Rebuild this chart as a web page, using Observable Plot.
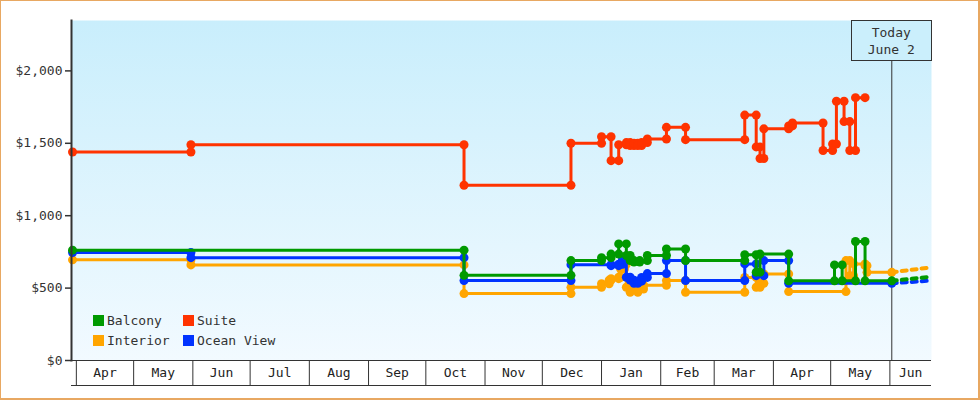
<!DOCTYPE html>
<html><head><meta charset="utf-8">
<script src="https://cdn.jsdelivr.net/npm/d3@7"></script>
<script src="https://cdn.jsdelivr.net/npm/@observablehq/plot@0.6"></script>
<style>
html,body{margin:0;padding:0;background:#fff;}
#wrap{position:relative;width:980px;height:400px;overflow:hidden;font-family:"DejaVu Sans Mono",monospace;}
#wrap svg{position:absolute;left:0;top:0;}
#border{position:absolute;left:0;top:0;width:980px;height:400px;box-sizing:border-box;border-style:solid;border-color:#e8a862;border-width:1px 2px 2px 1px;pointer-events:none;}
.lg{position:absolute;display:flex;align-items:center;height:12px;font-size:13px;color:#333;white-space:nowrap;}
.lg i{display:block;width:11px;height:11px;margin-right:3px;}
#today{position:absolute;box-sizing:border-box;border:1px solid #333;background:#cbeffc;text-align:center;font-size:13px;line-height:17px;padding-top:3px;color:#333;}
</style></head><body><div id="wrap"></div>
<script>
// ---- data ----
const seriesNames  = ["Balcony", "Suite", "Interior", "Ocean View"];
const seriesColors = ["#009a00", "#ff3300", "#ffa500", "#0033ff"];

const balconyDates  = ["2012-03-30","2012-10-21","2012-12-16","2013-01-01","2013-01-06","2013-01-10","2013-01-14","2013-01-16","2013-01-18","2013-01-21","2013-01-25","2013-02-04","2013-02-14","2013-03-17","2013-03-23","2013-03-25","2013-04-09","2013-05-03","2013-05-07","2013-05-14","2013-05-19","2013-06-02"];
const balconyPrices = [762,588,690,710,735,805,725,690,680,690,725,770,690,730,610,735,550,660,550,822,550,550];

const suiteDates  = ["2012-03-30","2012-05-31","2012-10-21","2012-12-16","2013-01-01","2013-01-06","2013-01-10","2013-01-14","2013-01-16","2013-01-18","2013-01-20","2013-01-22","2013-01-25","2013-02-04","2013-02-14","2013-03-17","2013-03-23","2013-03-25","2013-03-27","2013-04-09","2013-04-11","2013-04-27","2013-05-02","2013-05-04","2013-05-08","2013-05-11","2013-05-14","2013-05-19"];
const suitePrices = [1440,1490,1210,1500,1545,1380,1490,1505,1485,1500,1485,1505,1530,1610,1525,1695,1475,1395,1600,1620,1640,1450,1495,1790,1650,1450,1815,1815];

const interiorDates  = ["2012-03-30","2012-05-31","2012-10-21","2012-12-16","2013-01-01","2013-01-05","2013-01-06","2013-01-10","2013-01-11","2013-01-13","2013-01-14","2013-01-16","2013-01-20","2013-01-23","2013-02-04","2013-02-14","2013-03-17","2013-03-23","2013-03-25","2013-03-27","2013-04-09","2013-05-09","2013-05-11","2013-05-13","2013-05-19","2013-05-20","2013-06-02"];
const interiorPrices = [695,660,462,505,530,555,565,575,632,665,506,471,494,520,552,471,574,506,533,598,476,690,586,667,655,609,609];

const oceanDates  = ["2012-03-30","2012-05-31","2012-10-21","2012-12-16","2013-01-06","2013-01-10","2013-01-12","2013-01-14","2013-01-16","2013-01-18","2013-01-20","2013-01-22","2013-01-25","2013-02-04","2013-02-14","2013-03-17","2013-03-23","2013-03-27","2013-04-09","2013-06-02"];
const oceanPrices = [745,710,552,662,655,665,700,575,555,533,548,574,600,690,552,667,586,690,533,533];

const forecastDates     = ["2013-06-02","2013-06-22"];
const balconyForecast   = [550, 577];
const interiorForecast  = [609, 642];
const oceanForecast     = [533, 552];

const todayDate  = "2013-06-02";
const todayLines = ["Today", "June 2"];
const yTicks = [0, 500, 1000, 1500, 2000];
const xDomain = ["2012-03-29T11:00Z", "2013-06-22T19:00Z"];
const yDomain = [0, 2348];

// ---- build ----
const parse = d3.utcParse("%Y-%m-%d");
const toPts = (dates, prices) => dates.map((d, i) => ({date: parse(d), price: prices[i]}));
function vertices(pts) {
  const out = [pts[0]];
  for (let i = 1; i < pts.length; i++) {
    if (pts[i].price !== pts[i-1].price) out.push({date: pts[i].date, price: pts[i-1].price});
    out.push(pts[i]);
  }
  return out;
}
const color = name => seriesColors[seriesNames.indexOf(name)];
const S = {
  "Balcony":    {pts: toPts(balconyDates, balconyPrices),   fc: toPts(forecastDates, balconyForecast)},
  "Suite":      {pts: toPts(suiteDates, suitePrices),       fc: null},
  "Interior":   {pts: toPts(interiorDates, interiorPrices), fc: toPts(forecastDates, interiorForecast)},
  "Ocean View": {pts: toPts(oceanDates, oceanPrices),       fc: toPts(forecastDates, oceanForecast)}
};
const drawOrder = ["Interior", "Ocean View", "Balcony", "Suite"];
const today = parse(todayDate);
const xd = xDomain.map(d => new Date(d));

const monthStarts = d3.utcMonths(new Date("2012-04-01T00:00Z"), xd[1]);
const monthMids = monthStarts.map((m, i) => {
  const next = i + 1 < monthStarts.length ? monthStarts[i+1] : xd[1];
  return new Date((+m + +next) / 2);
});
const fmtMoney = d => "$" + d3.format(",")(d);

const seriesMarks = [];
for (const name of drawOrder) {
  const s = S[name], c = color(name);
  if (s.fc) seriesMarks.push(Plot.line(s.fc, {x: "date", y: "price", stroke: c, strokeWidth: 4, strokeDasharray: "5,5"}));
  seriesMarks.push(Plot.line(s.pts, {x: "date", y: "price", stroke: c, strokeWidth: 3, curve: "step-after"}));
  seriesMarks.push(Plot.dot(vertices(s.pts), {x: "date", y: "price", fill: c, r: 4.5}));
}

const svg = Plot.plot({
  width: 980, height: 400,
  marginLeft: 71, marginRight: 49, marginTop: 20, marginBottom: 40,
  style: {fontFamily: "DejaVu Sans Mono", fontSize: "13px", background: "transparent", color: "#333"},
  x: {type: "utc", domain: xd, label: null},
  y: {domain: yDomain, label: null},
  marks: [
    Plot.frame({fill: "url(#bgGrad)", stroke: null}),
    Plot.ruleX([today], {stroke: "#333", strokeWidth: 1}),
    ...seriesMarks,
    Plot.frame({anchor: "left", stroke: "#333", strokeWidth: 2}),
    Plot.ruleY([0], {stroke: "#333", strokeWidth: 1}),
    Plot.ruleY([0], {stroke: "#333", strokeWidth: 1, dy: 25}),
    Plot.axisY({ticks: yTicks, tickFormat: fmtMoney, tickSize: 6, tickPadding: 3, strokeWidth: 1.5, color: "#333", label: null}),
    Plot.axisX({ticks: monthStarts, tickSize: 25, tickFormat: () => "", stroke: "#333", label: null}),
    Plot.axisX({ticks: monthMids, tickSize: 0, tickPadding: 7, tickFormat: d3.utcFormat("%b"), fill: "#222", label: null})
  ]
});

// gradient background for the plotting area
const ns = "http://www.w3.org/2000/svg";
const defs = document.createElementNS(ns, "defs");
const lg = document.createElementNS(ns, "linearGradient");
lg.setAttribute("id", "bgGrad"); lg.setAttribute("x1", "0"); lg.setAttribute("y1", "0"); lg.setAttribute("x2", "0"); lg.setAttribute("y2", "1");
[["0%", "#c9eefc"], ["100%", "#f2faff"]].forEach(([o, c]) => {
  const st = document.createElementNS(ns, "stop");
  st.setAttribute("offset", o); st.setAttribute("stop-color", c); lg.appendChild(st);
});
defs.appendChild(lg);
svg.insertBefore(defs, svg.firstChild);

const wrap = document.getElementById("wrap");
wrap.appendChild(svg);

// legend
seriesNames.forEach((n, i) => {
  const d = document.createElement("div");
  d.className = "lg";
  d.style.left = (93 + (i % 2) * 90) + "px";
  d.style.top = (314.5 + Math.floor(i / 2) * 20) + "px";
  d.innerHTML = `<i style="background:${seriesColors[i]}"></i><span>${n}</span>`;
  wrap.appendChild(d);
});

// today box
const xs = svg.scale("x");
const tx = xs.apply(today);
const box = document.createElement("div");
box.id = "today";
box.style.left = (tx - 40.5) + "px";
box.style.top = "20px";
box.style.width = "81px";
box.style.height = "41px";
box.innerHTML = todayLines.join("<br>");
wrap.appendChild(box);

const border = document.createElement("div");
border.id = "border";
wrap.appendChild(border);
</script></body></html>
